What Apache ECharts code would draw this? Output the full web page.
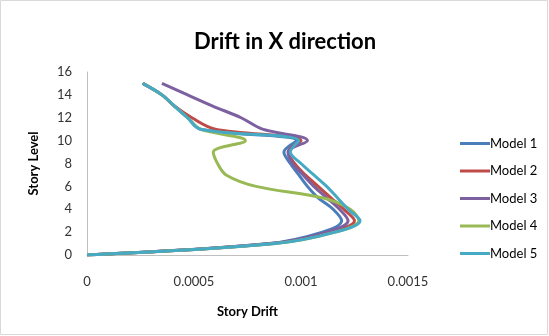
<!DOCTYPE html>
<html>
<head>
<meta charset="utf-8">
<script src="https://cdn.jsdelivr.net/npm/echarts@6/dist/echarts.min.js"></script>
<style>
  html, body { margin: 0; padding: 0; background: #fff; }
  #chart { width: 549px; height: 336px; }
</style>
</head>
<body>
<div id="chart"></div>
<script>
// Story levels (0 = base, 15 = roof)
const levels = [0, 1, 2, 3, 4, 5, 6, 7, 8, 9, 10, 11, 12, 13, 14, 15];

// Inter-story drift per level for each model
const model1 = [0, 0.00085, 0.00110, 0.00119, 0.00115, 0.00108, 0.00103, 0.00099, 0.00095, 0.00092, 0.00098, 0.00053, 0.00047, 0.00041, 0.00035, 0.00026];
const model2 = [0, 0.00087, 0.00114, 0.00125, 0.00120, 0.00114, 0.00108, 0.00102, 0.00097, 0.00094, 0.00100, 0.00060, 0.00049, 0.00041, 0.00035, 0.00026];
const model3 = [0, 0.00086, 0.00112, 0.00122, 0.00118, 0.00112, 0.00106, 0.00101, 0.00096, 0.00094, 0.00103, 0.00082, 0.00072, 0.00059, 0.00047, 0.00035];
const model4 = [0, 0.00088, 0.00116, 0.00127, 0.00123, 0.00110, 0.00079, 0.00065, 0.00061, 0.00059, 0.00074, 0.00053, 0.00047, 0.00041, 0.00035, 0.00026];
const model5 = [0, 0.00088, 0.00116, 0.001276, 0.00122, 0.00117, 0.00112, 0.00106, 0.00100, 0.00095, 0.00099, 0.00053, 0.00047, 0.00041, 0.00035, 0.00026];

const seriesNames = ['Model 1', 'Model 2', 'Model 3', 'Model 4', 'Model 5'];
const seriesValues = [model1, model2, model3, model4, model5];
const colors = ['#4a7ebb', '#be4b48', '#7d60a0', '#98b954', '#46aac5'];

// x-axis tick labels and y-axis range
const xTicks = ['0', '0.0005', '0.001', '0.0015'];
const xStep = 0.0005;
const yMin = 0, yMax = 16, yStep = 2;

const font = 'Lato, "Open Sans", sans-serif';

const chart = echarts.init(document.getElementById('chart'), null, { renderer: 'canvas' });

chart.setOption({
  animation: false,
  backgroundColor: '#ffffff',
  color: colors,
  title: {
    text: 'Drift in X direction',
    left: 280,
    top: 26,
    textAlign: 'center',
    textStyle: { fontFamily: font, fontSize: 22, fontWeight: 'bold', color: '#000' }
  },
  legend: {
    orient: 'vertical',
    left: 455,
    top: 132,
    itemGap: 14.5,
    itemWidth: 30,
    itemHeight: 3,
    icon: 'rect',
    textStyle: { fontFamily: font, fontSize: 13, color: '#000', padding: [0, 0, 0, -5] },
    data: seriesNames
  },
  grid: { left: 87, right: 141, top: 72, bottom: 81 },
  xAxis: {
    type: 'value',
    min: 0,
    max: xStep * (xTicks.length - 1),
    interval: xStep,
    name: 'Story Drift',
    nameLocation: 'middle',
    nameGap: 50,
    nameTextStyle: { fontFamily: font, fontSize: 13, fontWeight: 'bold', color: '#000' },
    axisLine: { show: true, lineStyle: { color: '#bfbfbf', width: 1 } },
    axisTick: { show: false },
    splitLine: { show: false },
    axisLabel: {
      fontFamily: font, fontSize: 13, color: '#333', margin: 20,
      showMinLabel: true, showMaxLabel: true, hideOverlap: false,
      formatter: function (v) {
        const idx = Math.round(v / xStep);
        return xTicks[idx] !== undefined ? xTicks[idx] : '';
      }
    }
  },
  yAxis: {
    type: 'value',
    min: yMin,
    max: yMax,
    interval: yStep,
    name: 'Story Level',
    nameLocation: 'middle',
    nameGap: 47,
    nameRotate: 90,
    nameTextStyle: { fontFamily: font, fontSize: 13, fontWeight: 'bold', color: '#000' },
    axisLine: { show: true, lineStyle: { color: '#bfbfbf', width: 1 } },
    axisTick: { show: false },
    splitLine: { show: false },
    axisLabel: { fontFamily: font, fontSize: 13, color: '#333', margin: 15 }
  },
  graphic: [{
    type: 'rect',
    shape: { x: 0.5, y: 0.5, width: 547, height: 334 },
    style: { fill: 'none', stroke: '#d9d9d9', lineWidth: 1 },
    silent: true
  }],
  series: seriesNames.map(function (name, i) {
    return {
      name: name,
      type: 'line',
      smooth: 0.35,
      showSymbol: false,
      symbol: 'none',
      lineStyle: { width: 3, color: colors[i] },
      data: levels.map(function (lv, k) { return [seriesValues[i][k], lv]; })
    };
  })
});
</script>
</body>
</html>
